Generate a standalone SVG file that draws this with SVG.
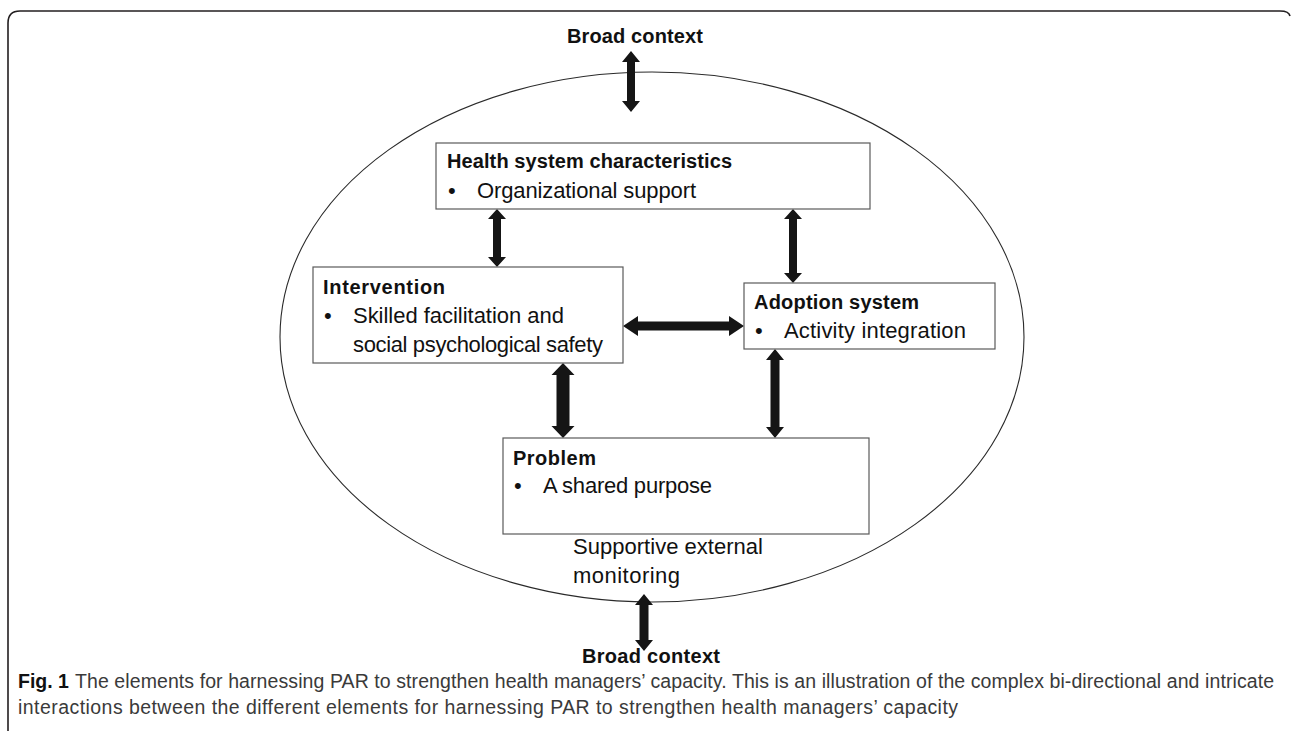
<svg xmlns="http://www.w3.org/2000/svg" width="1292" height="731" viewBox="0 0 1292 731">
<style>
.frame{fill:none;stroke:#231f20;stroke-width:1.6}
.ell{fill:none;stroke:#2a2a2a;stroke-width:1.1}
.box{fill:#ffffff;stroke:#5a5a5a;stroke-width:1.2}
.arr{fill:#151515;stroke:none}
.t{font-family:"Liberation Sans",Arial,sans-serif;fill:#111}
.b{font-weight:bold;font-size:20px}
.r{font-size:22px}
.ctx{font-family:"Liberation Sans",Arial,sans-serif;font-weight:bold;font-size:20px;fill:#111}
.cap{font-family:"Liberation Sans",Arial,sans-serif;font-size:19.5px;fill:#3a3a3a}
.capb{font-family:"Liberation Sans",Arial,sans-serif;font-size:19.5px;font-weight:bold;fill:#111}
</style>
<rect width="1292" height="731" fill="#ffffff"/>
<path class="frame" d="M8,760 L8,23 Q8,11 20,11 L1280,11 Q1289,11 1290,16"/>
<ellipse class="ell" cx="652" cy="337" rx="372" ry="265"/>

<g id="connectors">
<path class="arr" d="M631,51 L640,62 L635,62 L635,101 L640,101 L631,112 L622,101 L627,101 L627,62 L622,62 Z"/>
<path class="arr" d="M497,209 L506,219 L501,219 L501,257 L506,257 L497,267 L488,257 L493,257 L493,219 L488,219 Z"/>
<path class="arr" d="M793,209 L802,219 L797,219 L797,273 L802,273 L793,283 L784,273 L789,273 L789,219 L784,219 Z"/>
<path class="arr" d="M623,326 L638,316 L638,321.5 L729,321.5 L729,316 L744,326 L729,336 L729,330.5 L638,330.5 L638,336 Z"/>
<path class="arr" d="M563,363 L574.5,375 L569.5,375 L569.5,426 L574.5,426 L563,438 L551.5,426 L556.5,426 L556.5,375 L551.5,375 Z"/>
<path class="arr" d="M775,349 L784,360 L779.5,360 L779.5,427 L784,427 L775,438 L766,427 L770.5,427 L770.5,360 L766,360 Z"/>
<path class="arr" d="M644,594 L653,605 L648.5,605 L648.5,640 L653,640 L644,651 L635,640 L639.5,640 L639.5,605 L635,605 Z"/>
</g>

<g id="context-top">
<text class="ctx" x="635" y="43" text-anchor="middle" textLength="136">Broad context</text>
</g>

<g id="health-system">
<rect class="box" x="436" y="143" width="434" height="66"/>
<text class="t b" x="447" y="168" textLength="285">Health system characteristics</text>
<text class="t r" x="448" y="198">•</text>
<text class="t r" x="477" y="198" textLength="219">Organizational support</text>
</g>

<g id="intervention">
<rect class="box" x="313" y="267" width="310" height="96"/>
<text class="t b" x="323" y="294" textLength="122">Intervention</text>
<text class="t r" x="324" y="323">•</text>
<text class="t r" x="353" y="323" textLength="211">Skilled facilitation and</text>
<text class="t r" x="353" y="352" textLength="250">social psychological safety</text>
</g>

<g id="adoption">
<rect class="box" x="744" y="283" width="251" height="66"/>
<text class="t b" x="754" y="309" textLength="165">Adoption system</text>
<text class="t r" x="755" y="338">•</text>
<text class="t r" x="784" y="338" textLength="182">Activity integration</text>
</g>

<g id="problem">
<rect class="box" x="503" y="438" width="366" height="96"/>
<text class="t b" x="513" y="465" textLength="83">Problem</text>
<text class="t r" x="514" y="493">•</text>
<text class="t r" x="543" y="493" textLength="169">A shared purpose</text>
</g>

<g id="monitoring">
<text class="t r" x="573" y="554" textLength="190">Supportive external</text>
<text class="t r" x="573" y="583" textLength="107">monitoring</text>
</g>

<g id="context-bottom">
<text class="ctx" x="651" y="663" text-anchor="middle" textLength="138">Broad context</text>
</g>

<g id="caption">
<text class="capb" x="18" y="688">Fig. 1</text>
<text class="cap" x="75" y="688" textLength="1199">The elements for harnessing PAR to strengthen health managers’ capacity. This is an illustration of the complex bi-directional and intricate</text>
<text class="cap" x="18" y="714" textLength="940">interactions between the different elements for harnessing PAR to strengthen health managers’ capacity</text>
</g>
</svg>
